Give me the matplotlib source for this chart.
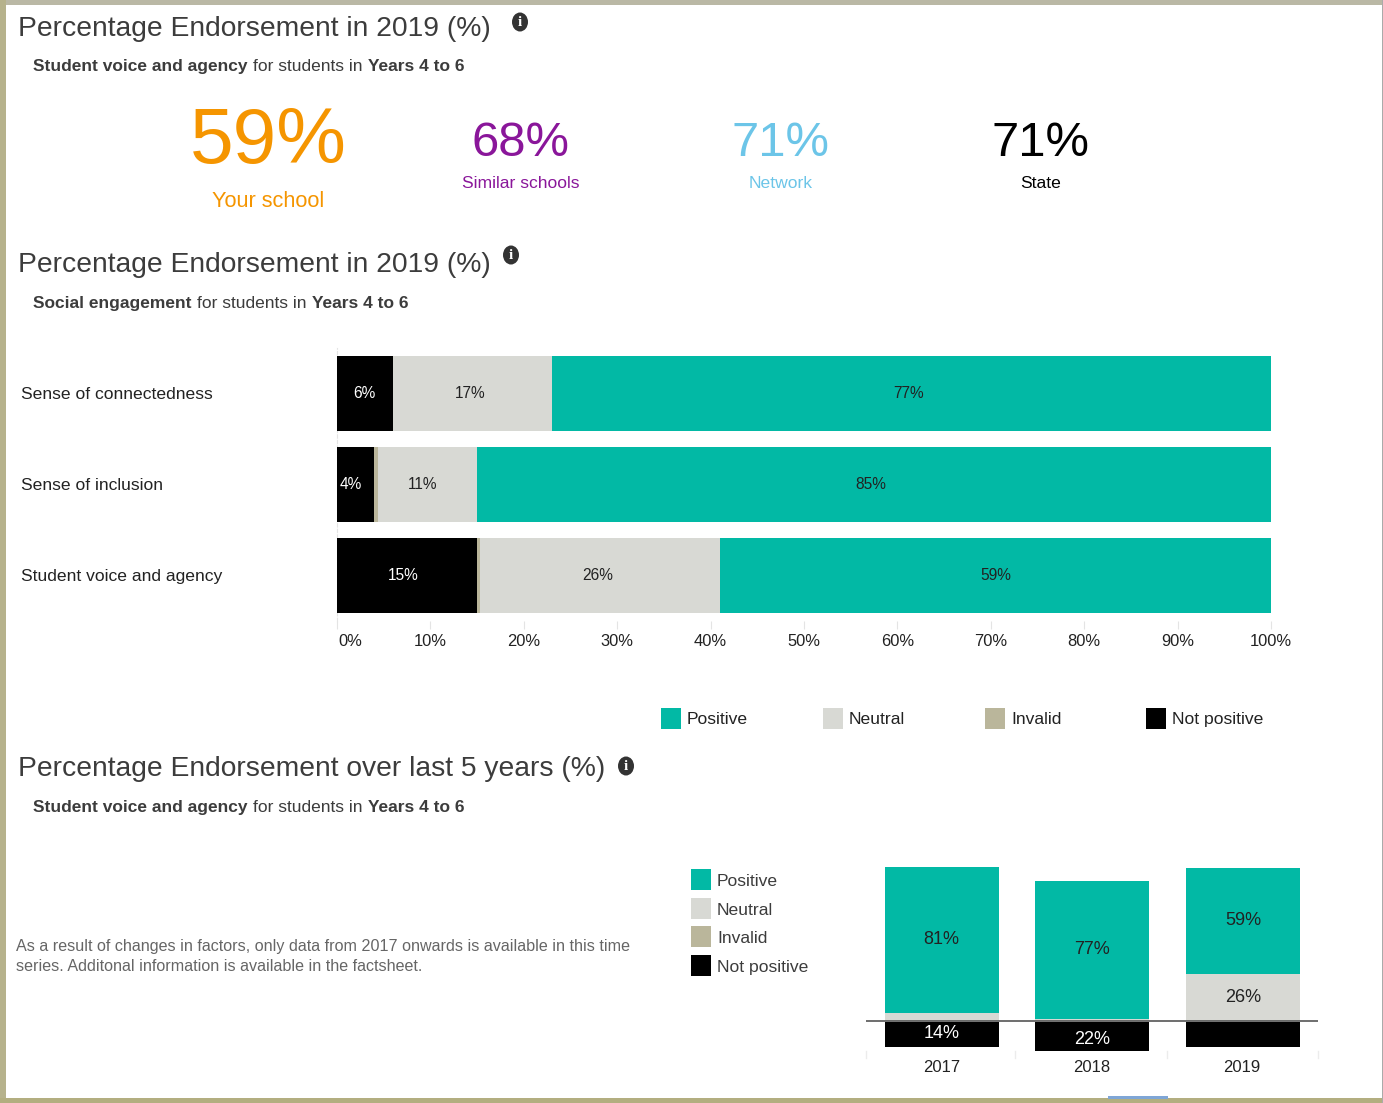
#!/usr/bin/env python3
"""School survey summary: endorsement headline figures and stacked bar charts."""

import matplotlib

matplotlib.use("Agg")

import matplotlib.pyplot as plt
from matplotlib.patches import Ellipse, Rectangle

FIG_W, FIG_H = 1383, 1103

# Headline figures
headline_values = [59, 68, 71, 71]
headline_names = ["Your school", "Similar schools", "Network", "State"]

# Social engagement factors, top to bottom
factors = ["Sense of connectedness", "Sense of inclusion", "Student voice and agency"]
factor_not_positive = [6, 4, 15]
factor_invalid = [0, 0.4, 0.3]
factor_neutral = [17, 11, 26]
factor_positive = [77, 85, 59]
pct_ticks = [0, 10, 20, 30, 40, 50, 60, 70, 80, 90, 100]

# Student voice and agency by year
years = ["2017", "2018", "2019"]
year_positive = [81, 77, 59]
year_neutral = [4.5, 1, 26]
year_invalid = [0, 0, 0]
year_not_positive = [14, 22, 14]

legend_names = ["Positive", "Neutral", "Invalid", "Not positive"]

TEAL = "#02b9a5"
GREY = "#d8d9d4"
KHAKI = "#bab69b"
BLACK = "#000000"
INK = "#3c3c3c"
DARK = "#222222"
legend_colors = [TEAL, GREY, KHAKI, BLACK]

plt.rcParams["font.family"] = ["Liberation Sans", "DejaVu Sans"]


def px(size):
    # font size given in pixels at dpi=100
    return size * 72 / 100


def axes_at(fig, left, top, right, bottom):
    return fig.add_axes([left / FIG_W, 1 - bottom / FIG_H, (right - left) / FIG_W, (bottom - top) / FIG_H])


def draw_text(ax, x, y, s, size, color=INK, ha="left", weight="normal"):
    # the +1.5 puts the digits, not the line box, on y
    ax.text(x, y + 1.5, s, fontsize=px(size), color=color, ha=ha, va="center", fontweight=weight)


def draw_info(ax, x, y):
    ax.add_patch(Ellipse((x, y), 16, 19, color="#333333", lw=0))
    ax.text(x, y + 0.5, "i", fontsize=px(15), color="white", ha="center", va="center",
            fontweight="bold", family="Liberation Serif")


def draw_subtitle(ax, y, parts):
    for x, s, weight in parts:
        draw_text(ax, x, y, s, 17.4, weight=weight)


def draw_swatch(ax, x, y, color, w=20, h=21):
    ax.add_patch(Rectangle((x, y), w, h, facecolor=color, edgecolor="none"))


fig = plt.figure(figsize=(FIG_W / 100, FIG_H / 100), dpi=100, facecolor="white")

# page layer in pixel coordinates
page = fig.add_axes([0, 0, 1, 1])
page.set_xlim(0, FIG_W)
page.set_ylim(FIG_H, 0)
page.axis("off")

# window frame
page.add_patch(Rectangle((0, 0), FIG_W, 5, facecolor="#bab8a5", edgecolor="none"))
page.add_patch(Rectangle((0, 0), 6, FIG_H, facecolor="#b6b28c", edgecolor="none"))
page.add_patch(Rectangle((0, 1098), FIG_W, 5, facecolor="#b3ae80", edgecolor="none"))
page.add_patch(Rectangle((1382, 0), 1, FIG_H, facecolor="#aaaaaa", edgecolor="none"))
page.add_patch(Rectangle((1108, 1096), 60, 3, facecolor="#7fa6d6", edgecolor="none"))

# section one: headline figures
draw_text(page, 18, 27, "Percentage Endorsement in 2019 (%)", 28.3)
draw_info(page, 520, 22)
draw_subtitle(page, 65, [(33, "Student voice and agency", "bold"), (253, "for students in", "normal"), (368, "Years 4 to 6", "bold")])

headline_colors = ["#f59500", "#8a169a", "#6cc5e8", "#000000"]
headline_x = [268, 520, 780, 1041]
headline_sizes = [78.4, 49, 49, 49]
headline_y = [141, 142, 142, 142]
name_x = [268, 521, 781, 1041]
name_y = [200, 182, 182, 182]
name_sizes = [21.8, 17.5, 17.5, 17.5]
for i, val in enumerate(headline_values):
    draw_text(page, headline_x[i], headline_y[i], f"{val}%", headline_sizes[i], headline_colors[i], ha="center")
    draw_text(page, name_x[i], name_y[i], headline_names[i], name_sizes[i], headline_colors[i], ha="center")

# section two: factor bars
draw_text(page, 18, 264, "Percentage Endorsement in 2019 (%)", 28.3)
draw_info(page, 511, 255)
draw_subtitle(page, 302, [(33, "Social engagement", "bold"), (197, "for students in", "normal"), (312, "Years 4 to 6", "bold")])

ax1 = axes_at(fig, 337, 348, 1271, 621)
ax1.patch.set_alpha(0)
ax1.set_xlim(0, 100)
ax1.set_ylim(2.5, -0.5)
# label centres along the bars, in percent
np_label_x = [2.9, 1.5, 7.1]
neu_label_x = [14.3, 9.2, 27.9]
pos_label_x = [61.2, 57.2, 70.5]
for i, name in enumerate(factors):
    np_val, inv, neu, pos = factor_not_positive[i], factor_invalid[i], factor_neutral[i], factor_positive[i]
    ax1.barh(i, np_val, 0.824, color=BLACK, zorder=2)
    ax1.barh(i, inv, 0.824, left=np_val, color=KHAKI, zorder=2)
    ax1.barh(i, neu, 0.824, left=np_val + inv, color=GREY, zorder=2)
    # positive runs back from the 100% end
    ax1.barh(i, pos, 0.824, left=100 - pos, color=TEAL, zorder=2)
    ax1.text(np_label_x[i], i + 0.0, f"{np_val}%", fontsize=px(15.5), color="white", ha="center", va="center", zorder=3)
    ax1.text(neu_label_x[i], i + 0.0, f"{neu}%", fontsize=px(15.5), color=DARK, ha="center", va="center", zorder=3)
    ax1.text(pos_label_x[i], i + 0.0, f"{pos}%", fontsize=px(15.5), color=DARK, ha="center", va="center", zorder=3)
    draw_text(page, 21, 393 + 91 * i, name, 17.5, DARK)
for side in ["top", "right", "bottom"]:
    ax1.spines[side].set_visible(False)
ax1.spines["left"].set_color("#e4e4e4")
ax1.spines["left"].set_linestyle((0, (3, 2)))
ax1.spines["left"].set_zorder(1)
ax1.set_yticks([])
ax1.set_xticks(pct_ticks)
ax1.set_xticklabels([])
ax1.tick_params(axis="x", length=6, color="#e4e4e4", pad=0, bottom=True)
for t in pct_ticks:
    # the first label is nudged right of the axis
    x_pos = 337 + 9.34 * t + (13 if t == 0 else 0)
    draw_text(page, x_pos, 640, f"{t}%", 16.5, DARK, ha="center")

legend_x = [661, 823, 985, 1146]
for x, name, color in zip(legend_x, legend_names, legend_colors):
    draw_swatch(page, x, 708, color)
    draw_text(page, x + 26, 718, name, 17.5, DARK)

# section three: yearly bars
draw_text(page, 18, 767, "Percentage Endorsement over last 5 years (%)", 28.3)
draw_info(page, 626, 766)
draw_subtitle(page, 806, [(33, "Student voice and agency", "bold"), (253, "for students in", "normal"), (368, "Years 4 to 6", "bold")])

draw_text(page, 16, 945, "As a result of changes in factors, only data from 2017 onwards is available in this time", 16.1, "#666666")
draw_text(page, 16, 965, "series. Additonal information is available in the factsheet.", 16.1, "#666666")

for i, (name, color) in enumerate(zip(legend_names, legend_colors)):
    draw_swatch(page, 691, 869 + 28.7 * i, color)
    draw_text(page, 717, 880 + 28.7 * i, name, 17.5, INK)

# 1.8 px per percent with the plot cut off at the bottom edge
ax2 = axes_at(fig, 866.4, 860, 1318.4, 1051)
ax2.patch.set_alpha(0)
ax2.set_xlim(-0.5, 2.5)
ax2.set_ylim(-30 / 1.8, 161 / 1.8)
for i, year in enumerate(years):
    ax2.bar(i, year_positive[i], 0.757, bottom=year_neutral[i] + year_invalid[i], color=TEAL)
    ax2.bar(i, year_neutral[i], 0.757, bottom=year_invalid[i], color=GREY)
    ax2.bar(i, -year_not_positive[i], 0.757, bottom=-0.6, color=BLACK)
ax2.axhline(0, color="#555555", lw=1.2, zorder=5)
label_y = [45.3, 39.7, 55.8]
for i in range(3):
    ax2.text(i, label_y[i], f"{year_positive[i]}%", fontsize=px(18), color=DARK, ha="center", va="center", zorder=6)
ax2.text(2, 12.8, f"{year_neutral[2]}%", fontsize=px(18), color=DARK, ha="center", va="center", zorder=6)
ax2.text(0, -7.1, f"{year_not_positive[0]}%", fontsize=px(18), color="white", ha="center", va="center", zorder=6)
ax2.text(1, -10.1, f"{year_not_positive[1]}%", fontsize=px(18), color="white", ha="center", va="center", zorder=6)
ax2.axis("off")
for i, year in enumerate(years):
    draw_text(page, 942 + 150 * i, 1066, year, 16.6, DARK, ha="center")
for x in [866, 1015, 1167, 1318]:
    page.plot([x, x], [1051, 1058], color="#ececec", lw=1)

fig.savefig("out.png", dpi=100)
